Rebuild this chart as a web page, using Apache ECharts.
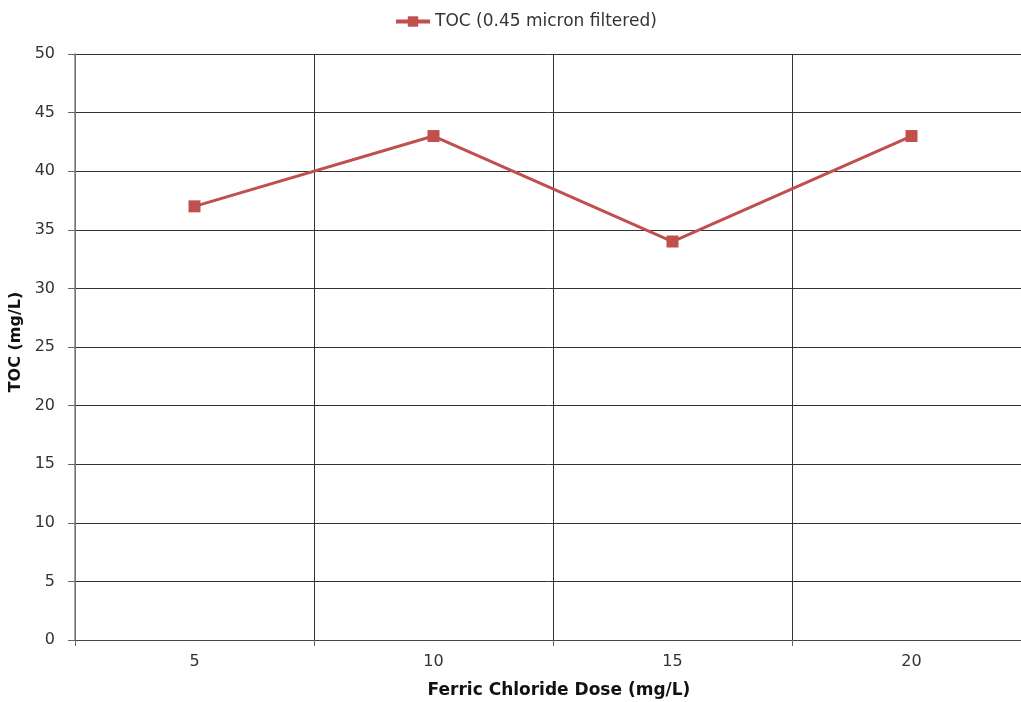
<!DOCTYPE html>
<html>
<head>
<meta charset="utf-8">
<script src="https://cdn.jsdelivr.net/npm/echarts@6/dist/echarts.min.js"></script>
<style>
  html, body { margin: 0; padding: 0; background: #fff; }
  #chart { width: 1021px; height: 702px; }
</style>
</head>
<body>
<div id="chart"></div>
<script>
// Ferric chloride dose vs. filtered TOC
const doses = ['5', '10', '15', '20'];
const tocValues = [37, 43, 34, 43];
const seriesName = 'TOC (0.45 micron filtered)';

const FONT = '"DejaVu Sans", sans-serif';
const chart = echarts.init(document.getElementById('chart'));
chart.setOption({
  animation: false,
  backgroundColor: '#ffffff',
  textStyle: { fontFamily: FONT },
  legend: {
    top: 8,
    left: 389,
    itemWidth: 34,
    itemHeight: 13,
    itemGap: 4,
    lineStyle: { width: 4 },
    textStyle: { fontSize: 17, color: '#333', fontFamily: FONT },
    data: [seriesName]
  },
  grid: { left: 75, top: 54, width: 956, height: 586, containLabel: false, outerBoundsMode: 'none' },
  xAxis: {
    type: 'category',
    data: doses,
    boundaryGap: true,
    name: 'Ferric Chloride Dose (mg/L)',
    nameLocation: 'middle',
    nameGap: 42,
    nameTextStyle: { fontSize: 17, fontWeight: 'bold', color: '#111', fontFamily: FONT, padding: [0, 0, 0, 12] },
    axisLine: { lineStyle: { color: '#444', width: 1 } },
    axisTick: { show: true, length: 6, lineStyle: { color: '#666' } },
    axisLabel: { fontSize: 16, color: '#333', margin: 14 },
    splitLine: { show: true, lineStyle: { color: '#333', width: 1 } }
  },
  yAxis: {
    type: 'value',
    min: 0,
    max: 50,
    interval: 5,
    name: 'TOC (mg/L)',
    nameLocation: 'middle',
    nameRotate: 90,
    nameGap: 30,
    nameTextStyle: { fontSize: 16, fontWeight: 'bold', color: '#111', fontFamily: FONT, padding: [0, 0, 0, 10] },
    axisLine: { show: true, lineStyle: { color: '#888', width: 1.5 } },
    axisTick: { show: true, length: 7, lineStyle: { color: '#666' } },
    axisLabel: { fontSize: 16, color: '#333', margin: 20 },
    splitLine: { show: true, lineStyle: { color: '#333', width: 1 } }
  },
  series: [{
    name: seriesName,
    type: 'line',
    data: tocValues,
    symbol: 'rect',
    symbolSize: 12,
    lineStyle: { color: '#C0504D', width: 3 },
    itemStyle: { color: '#C0504D' }
  }]
});
</script>
</body>
</html>
